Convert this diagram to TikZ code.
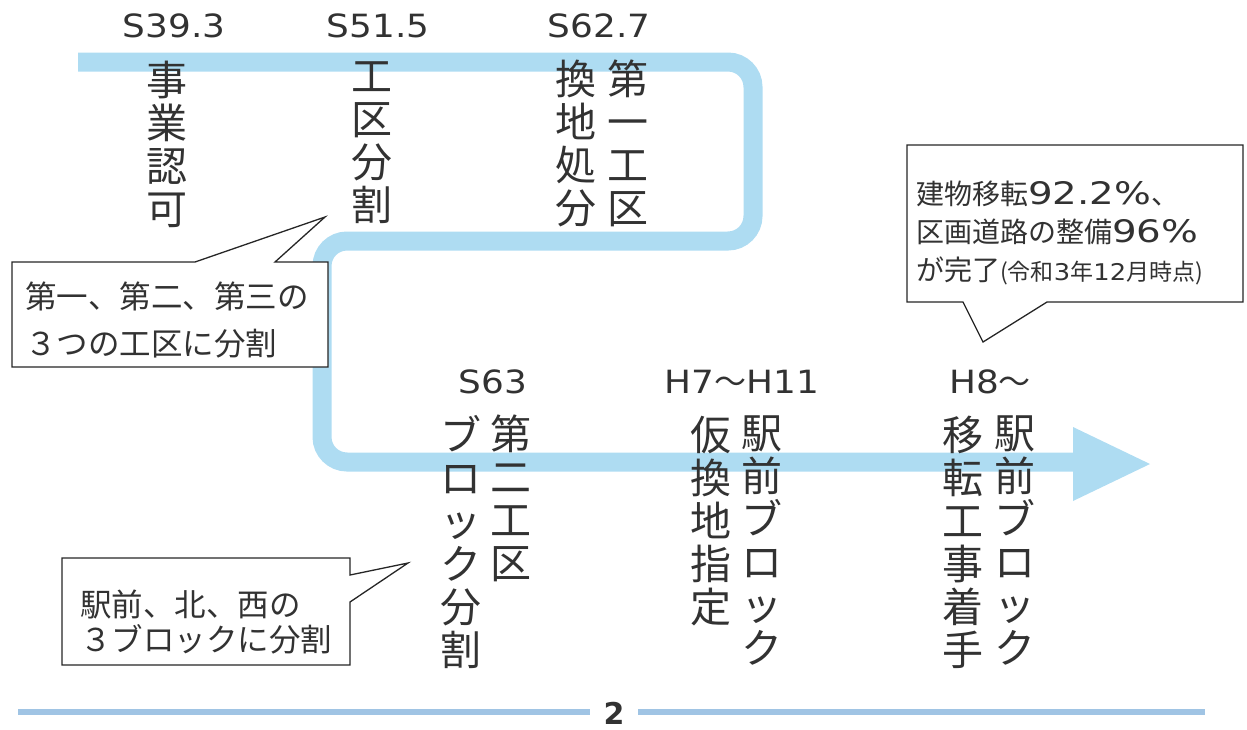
\documentclass[tikz,border=0pt]{standalone}
\usepackage{fontspec}
\setmainfont{Noto Sans CJK JP}
\newfontfamily\lat{DejaVu Sans}
\newfontfamily\latw{DejaVu Sans}[FakeStretch=1.12]
\newfontfamily\latww{DejaVu Sans}[FakeStretch=1.25]
\definecolor{flow}{RGB}{174,220,242}
\definecolor{rulecol}{RGB}{160,196,228}
\definecolor{ink}{RGB}{50,50,50}
\tikzset{
  vtext/.style={anchor=north, inner sep=0pt, align=center, text=ink, font=\fontsize{41}{43}\selectfont},
  datelbl/.style={anchor=base, inner sep=0pt, text=ink, font=\latw\fontsize{32}{36}\selectfont},
  callout/.style={draw=black!85, line width=1.3pt, fill=white, line join=miter},
  boxtext/.style={anchor=base west, inner sep=0pt, text=ink},
  bigbox/.style={boxtext, font=\fontsize{31.5}{34}\selectfont},
  midbox/.style={boxtext, font=\fontsize{28}{31}\selectfont},
}
\newcommand{\dg}[1]{{\latww\fontsize{31}{34}\selectfont #1}}
\begin{document}
\begin{tikzpicture}[x=1pt,y=-1pt]
\useasboundingbox (0,0) rectangle (1247,729);
% flow line
\coordinate (p0) at (78,62);
\coordinate (p1) at (753,62);
\coordinate (p2) at (753,241);
\coordinate (p3) at (322,241);
\coordinate (p4) at (322,462);
\coordinate (p5) at (1080,462);
\draw[flow, line width=19pt, rounded corners=25pt] (p0) -- (p1) -- (p2) -- (p3) -- (p4) -- (p5);
\fill[flow] (1073,427) -- (1150,464) -- (1073,501) -- cycle;

% date labels
\node[datelbl] (d1) at (174,37) {S39.3};
\node[datelbl] (d2) at (378,37) {S51.5};
\node[datelbl] (d3) at (599,37) {S62.7};
\node[datelbl] (d4) at (493,393) {S63};
\node[datelbl] (d5) at (742,393) {H7{\rmfamily〜}H11};
\node[datelbl] (d6) at (990,393) {H8{\rmfamily〜}};

% vertical texts
\node[vtext] (v1) at (167,61) {事\\業\\認\\可};
\node[vtext] (v2) at (372,61) {工\\区\\分\\割};
\node[vtext] (v3a) at (628,60) {第\\一\\工\\区};
\node[vtext] (v3b) at (576,60) {換\\地\\処\\分};
\node[vtext] (v4a) at (511,415) {第\\二\\工\\区};
\node[vtext] (v4b) at (461,415) {ブ\\ロ\\ッ\\ク\\分\\割};
\node[vtext] (v5a) at (762,416) {駅\\前\\ブ\\ロ\\ッ\\ク};
\node[vtext] (v5b) at (711,416) {仮\\換\\地\\指\\定};
\node[vtext] (v6a) at (1015,416) {駅\\前\\ブ\\ロ\\ッ\\ク};
\node[vtext] (v6b) at (963,416) {移\\転\\工\\事\\着\\手};

% callout 1
\draw[callout] (12,262) -- (195,262) -- (325,217) -- (275,262) -- (328,262) -- (328,367) -- (12,367) -- cycle;
\node[bigbox] (c1a) at (25,308) {第一、第二、第三の};
\node[bigbox] (c1b) at (25,355) {３つの工区に分割};

% callout 2
\draw[callout] (907,145) -- (1243,145) -- (1243,302) -- (1047,302) -- (983,342) -- (963,302) -- (907,302) -- cycle;
\node[midbox] (c2a) at (916,204) {建物移転\dg{92.2\%}、};
\node[midbox] (c2b) at (916,242) {区画道路の整備\dg{96\%}};
\node[midbox] (c2c) at (916,280) {が完了{\fontsize{23}{26}\selectfont (令和{\latw 3}年{\latw 12}月時点)}};

% callout 3
\draw[callout] (62,558) -- (350,558) -- (350,575) -- (408,563) -- (350,602) -- (350,665) -- (62,665) -- cycle;
\node[bigbox] (c3a) at (80,616) {駅前、北、西の};
\node[bigbox] (c3b) at (80,651) {３ブロックに分割};

% page footer
\coordinate (r1) at (18,712);
\coordinate (r2) at (590,712);
\coordinate (r3) at (638,712);
\coordinate (r4) at (1205,712);
\draw[rulecol, line width=6pt] (r1) -- (r2);
\draw[rulecol, line width=6pt] (r3) -- (r4);
\node[anchor=base, inner sep=0pt, text=ink, font=\lat\bfseries\fontsize{30}{33}\selectfont] (pg) at (614,724) {2};
\end{tikzpicture}
\end{document}
